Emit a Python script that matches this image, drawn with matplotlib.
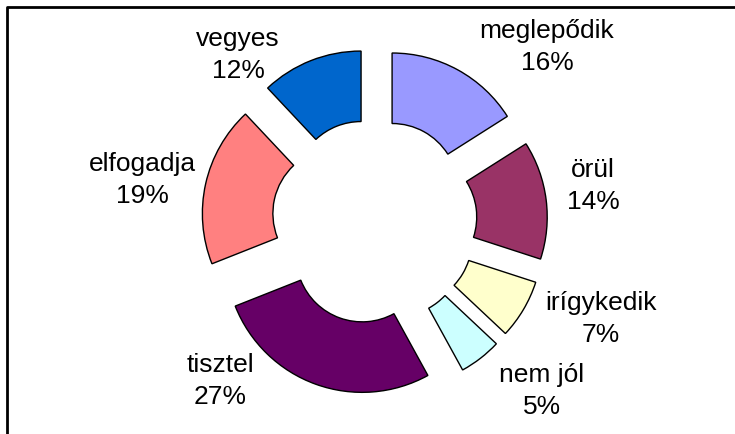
import matplotlib
matplotlib.use("Agg")
import matplotlib.pyplot as plt

# data (clockwise from 12 o'clock)
labels = ["meglepődik", "örül", "irígykedik", "nem jól", "tisztel", "elfogadja", "vegyes"]
shares = [16, 14, 7, 5, 27, 19, 12]
colors = ["#9999FF", "#993366", "#FFFFCC", "#CCFFFF", "#660066", "#FF8080", "#0066CC"]

# layout in pixels (figure is 735x434, y measured from top)
W, H = 735, 434
cx, cy = 374.5, 221.5
R_out, R_in = 136.5, 66
explode_px = 36.5
label_pos = [(547, 47), (593, 186), (601, 319), (542, 391),
             (220, 381), (142, 180), (238, 55)]

plt.rcParams['font.family'] = ['Liberation Sans', 'DejaVu Sans']

fig = plt.figure(figsize=(W / 100, H / 100), dpi=100)
ax = fig.add_axes([0, 0, 1, 1])

ax.pie(shares, colors=colors, startangle=90, counterclock=False,
       center=(cx, H - cy), radius=R_out,
       explode=[explode_px] * len(shares),
       wedgeprops=dict(width=R_out - R_in, edgecolor="black", linewidth=1.0))

ax.set_xlim(0, W)
ax.set_ylim(0, H)
ax.set_aspect("equal")
ax.axis("off")

for lab, val, (lx, ly) in zip(labels, shares, label_pos):
    ax.text(lx, H - ly, "%s\n%d%%" % (lab, val), ha="center", va="center",
            fontsize=19, linespacing=1.4, color="black")

# chart area frame (left and top edges visible)
ax.plot([7, 7, W], [0, H - 7, H - 7], color="black", lw=2, clip_on=False)

fig.savefig("out.png", dpi=100, facecolor="white")
